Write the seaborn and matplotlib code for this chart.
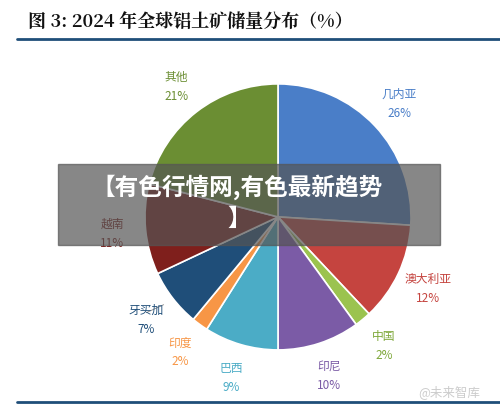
import matplotlib.pyplot as plt
import matplotlib.patches as mpatches
import seaborn as sns

sns.set_theme(style="white")
plt.rcParams["font.family"] = ["Noto Sans CJK SC", "DejaVu Sans"]

countries = ["几内亚", "澳大利亚", "中国", "印尼", "巴西", "印度", "牙买加", "越南", "其他"]
shares = [26, 12, 2, 10, 9, 2, 7, 11, 21]
colors = ["#4A7EC8", "#C5443F", "#9BC34F", "#7B5BA6", "#4BACC6",
          "#F79646", "#1F4E79", "#7F1F1C", "#6B8E33"]

fig = plt.figure(figsize=(5, 4.1), dpi=100)
fig.patch.set_facecolor("white")

fig.text(0.055, 0.945, "图 3: 2024 年全球铝土矿储量分布（%）", fontsize=13,
         fontweight="bold", color="#111111", va="center",
         family=["Noto Serif CJK SC", "Noto Sans CJK SC", "DejaVu Sans"])
fig.add_artist(plt.Line2D([0.034, 1.0], [0.903, 0.903], color="#1F4E79", lw=2))
fig.add_artist(plt.Line2D([0.034, 1.0], [0.017, 0.017], color="#1F4E79", lw=2))

ax = fig.add_axes([0.29, 0.144, 0.532, 0.649])
labels = [f"{c}\n{s}%" for c, s in zip(countries, shares)]
wedges, texts = ax.pie(shares, colors=colors, startangle=90, counterclock=False,
                       labels=labels, labeldistance=1.25,
                       wedgeprops=dict(edgecolor="white", linewidth=1.2),
                       textprops=dict(fontsize=8.5, linespacing=1.6))
for t, c in zip(texts, colors):
    t.set_color(c if c != "#9BC34F" else "#7FA83A")
    t.set_ha("center")
ax.set_xlim(-1, 1)
ax.set_ylim(-1, 1)
ax.set_aspect("equal")

# leader line for Jamaica
ax.plot([-0.86, -0.99], [-0.66, -0.72], color="#888888", lw=0.6, clip_on=False)

# overlay banner
fig.add_artist(mpatches.Rectangle((0.116, 0.40), 0.764, 0.198, transform=fig.transFigure,
                                  color="#555555", alpha=0.7))
fig.text(0.475, 0.543, "【有色行情网,有色最新趋势", color="white", fontsize=17,
         fontweight="bold", ha="center", va="center")
fig.text(0.478, 0.465, "】", color="white", fontsize=17, fontweight="bold",
         ha="center", va="center")

fig.text(0.96, 0.045, "@未来智库", color="#CCCCCC", fontsize=9, ha="right", va="center")

fig.savefig("out.png", dpi=100)
